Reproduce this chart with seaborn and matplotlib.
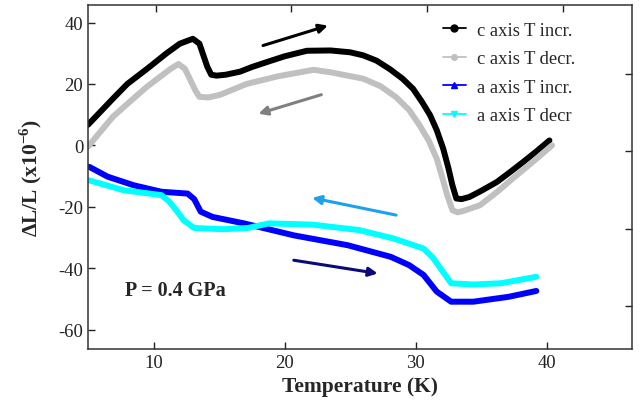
import numpy as np
import seaborn as sns
import matplotlib.pyplot as plt
from matplotlib.lines import Line2D

# c axis, T increasing
c_incr_T = [5.0, 6.9, 8.0, 9.5, 11.0, 12.0, 13.0, 13.5, 14.1, 14.4, 14.8, 15.5, 16.6, 17.5, 18.7, 20.0,
            21.7, 23.5, 25.0, 26.0, 27.0, 28.0, 29.0, 29.8, 30.5, 31.1, 31.6, 32.1, 32.5, 32.8, 33.1,
            33.5, 34.1, 35.0, 36.2, 37.2, 38.2, 39.2, 40.2]
c_incr = [6.7, 15.2, 20.0, 24.9, 30.0, 33.1, 34.7, 33.1, 25.6, 23.0, 22.7, 23.0, 24.0, 25.5, 27.2, 29.0,
          30.8, 30.9, 30.3, 29.3, 27.6, 24.9, 21.7, 18.4, 14.0, 9.8, 5.0, -1.1, -7.5, -13.0, -17.3,
          -17.5, -16.8, -14.8, -11.9, -8.7, -5.4, -2.0, 1.6]

# c axis, T decreasing
c_decr_T = [5.0, 6.9, 8.0, 9.5, 11.3, 11.9, 12.4, 13.2, 13.5, 14.2, 15.1, 17.1, 19.5, 22.2, 23.5,
            26.0, 27.3, 28.5, 29.5, 30.3, 31.0, 31.6, 32.0, 32.4, 32.8, 33.2, 33.6, 34.9, 36.2, 37.4,
            38.9, 40.4]
c_decr = [-0.4, 9.3, 13.5, 19.1, 24.9, 26.5, 24.9, 17.8, 15.8, 15.6, 16.5, 20.0, 22.5, 24.6, 23.8,
          21.7, 19.3, 15.7, 11.5, 6.5, 1.5, -4.3, -10.0, -16.2, -21.1, -21.8, -21.4, -19.5, -15.2, -10.8,
          -5.5, 0.0]

# a axis, T increasing
a_incr_T = [5.1, 6.5, 8.5, 10.6, 12.6, 13.1, 13.6, 14.5, 16.9, 20.7, 24.8, 28.1, 29.5, 30.6, 31.6,
            32.7, 34.4, 37.1, 39.2]
a_incr = [-7.0, -10.2, -13.0, -15.1, -15.7, -17.5, -21.6, -23.3, -25.4, -29.3, -32.5, -36.3, -39.0,
          -42.2, -47.6, -50.9, -50.9, -49.3, -47.4]

# a axis, T decreasing
a_decr_T = [5.1, 7.7, 10.6, 11.2, 11.8, 12.3, 13.1, 15.3, 17.2, 18.8, 22.1, 25.7, 28.3, 30.6, 31.3,
            31.9, 32.7, 34.4, 36.5, 39.2]
a_decr = [-11.4, -14.6, -16.2, -18.3, -21.5, -24.4, -26.9, -27.3, -26.9, -25.4, -25.8, -27.6, -30.3,
          -33.6, -36.5, -40.1, -44.9, -45.3, -44.9, -42.8]

labels = ['c axis T incr.', 'c axis T decr.', 'a axis T incr.', 'a axis T decr']
colors = ['black', '#c0c0c0', '#0000ff', '#00ffff']
markers = ['o', 'o', '^', 'v']

# direction arrows: (tail_T, tail_y, head_T, head_y, colour)
arrows = [(18.35, 32.5, 23.3, 39.0, 'black'),
          (22.8, 16.5, 18.0, 10.3, '#808080'),
          (28.5, -22.7, 22.1, -17.1, '#1ea0f0'),
          (20.7, -37.4, 27.1, -41.7, '#0a0a78')]

sns.set_style("ticks")
plt.rcParams['font.family'] = ['Liberation Serif', 'DejaVu Serif']
plt.rcParams['axes.unicode_minus'] = False
plt.rcParams['mathtext.fontset'] = 'custom'
plt.rcParams['mathtext.rm'] = 'Liberation Serif'
plt.rcParams['mathtext.bf'] = 'Liberation Serif:bold'

fig = plt.figure(figsize=(6.4, 4.14), dpi=100)
ax = fig.add_axes([0.1375, 0.1546, 0.85, 0.8309])

series = [(c_incr_T, c_incr), (c_decr_T, c_decr), (a_incr_T, a_incr), (a_decr_T, a_decr)]
for (t, v), col in zip(series, colors):
    sns.lineplot(x=t, y=v, ax=ax, color=col, lw=4.3, sort=False, legend=False)

for t0, y0, t1, y1, col in arrows:
    ax.annotate('', xy=(t1, y1), xytext=(t0, y0),
                arrowprops=dict(arrowstyle='-|>', color=col, lw=2.2, mutation_scale=13,
                                shrinkA=0, shrinkB=0))

ax.text(7.8, -47.1, 'P = 0.4 GPa', fontsize=14.5, fontweight='bold', va='center', ha='left')

ax.set_xlim(5.0, 46.5)
ax.set_ylim(-66.3, 45.7)
ax.set_xticks([10, 20, 30, 40])
ax.set_yticks([-60, -40, -20, 0, 20, 40])
ax.tick_params(direction='in', length=5, width=1, labelsize=13.4, colors='#222222')
ax.set_xlabel('Temperature (K)', fontsize=15.5, fontweight='bold', labelpad=4)
ax.set_ylabel(r'ΔL/L (x10$^{\mathbf{-6}}$)', fontsize=15.5, fontweight='bold', labelpad=10)
for s in ax.spines.values():
    s.set_visible(True)
    s.set_linewidth(1.1)
    s.set_color('#333333')

# unlabelled ticks on the top and right frame use their own scales
top = ax.secondary_xaxis('top', functions=(lambda x: 5 + (np.asarray(x) - 5) * 40.1 / 41.5,
                                           lambda x: 5 + (np.asarray(x) - 5) * 41.5 / 40.1))
top.set_xticks([10, 20, 30, 40])
top.tick_params(direction='in', length=5, width=1, labeltop=False, colors='#222222')
right = ax.secondary_yaxis('right', functions=(lambda y: -31.1 + (np.asarray(y) + 66.3) * 89.0 / 112.0,
                                               lambda y: -66.3 + (np.asarray(y) + 31.1) * 112.0 / 89.0))
right.set_yticks([-20, 0, 20, 40])
right.tick_params(direction='in', length=5, width=1, labelright=False, colors='#222222')
for sec in (top, right):
    for s in sec.spines.values():
        s.set_visible(False)

handles = [Line2D([], [], color=c, marker=m, lw=1.3, markersize=ms)
           for c, m, ms in zip(colors, markers, [5, 4, 5, 5])]
ax.legend(handles, labels, loc='upper left', bbox_to_anchor=(0.653, 0.952), frameon=False,
          fontsize=13.4, handlelength=1.2, handletextpad=0.6, labelspacing=0.62,
          borderaxespad=0, borderpad=0)

plt.savefig('out.png', dpi=100)
